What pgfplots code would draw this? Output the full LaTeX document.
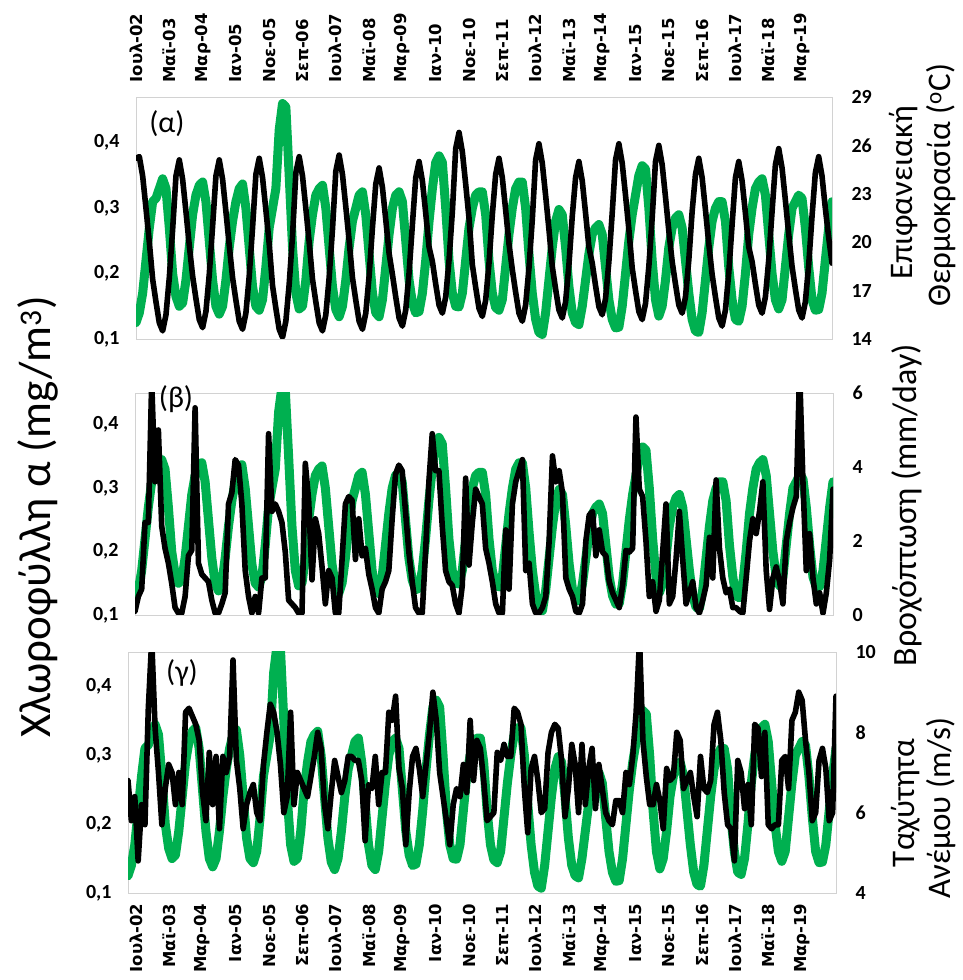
\documentclass[border=0pt]{standalone}
\usepackage{fontspec}
\setmainfont{Carlito}
\newfontfamily\dejavu{DejaVu Sans}
\usepackage{pgfplots}
\usepackage{pgfplotstable}
\pgfplotsset{compat=1.18}
\definecolor{chlgreen}{HTML}{00B050}

\pgfplotstableread{
i chl sst rain wind
0 0.125 25.2 0.1 6.8
1 0.14 25.3 0.5 5.8
2 0.17 24.1 0.7 6.4
3 0.22 22.1 2.5 4.8
4 0.27 20.0 2.5 6.2
5 0.31 17.7 6.3 5.7
6 0.315 16.3 3.6 8.6
7 0.33 15.0 5.0 10.3
8 0.345 14.5 2.4 8.1
9 0.33 15.5 1.8 7.0
10 0.27 17.8 1.4 5.7
11 0.20 20.8 0.85 6.6
12 0.165 24.1 0.2 7.2
13 0.15 25.1 0.05 7.0
14 0.155 23.9 0.05 6.2
15 0.19 21.9 0.5 7.0
16 0.24 19.8 1.6 6.2
17 0.29 17.9 1.75 8.5
18 0.32 16.5 5.6 8.6
19 0.335 15.2 1.4 8.4
20 0.34 14.7 1.1 8.2
21 0.31 15.7 1.0 7.8
22 0.25 18.0 0.9 6.5
23 0.19 21.0 0.4 5.8
24 0.15 24.1 0.05 7.5
25 0.138 25.1 0.05 6.2
26 0.15 23.9 0.3 7.4
27 0.19 21.9 0.6 5.6
28 0.24 19.8 3.0 7.4
29 0.28 17.8 3.3 7.0
30 0.31 16.4 4.2 7.4
31 0.33 15.1 4.05 9.8
32 0.337 14.6 3.0 7.3
33 0.30 15.6 1.2 6.6
34 0.24 17.9 0.5 5.6
35 0.18 20.9 0.05 6.2
36 0.15 24.2 0.5 6.5
37 0.144 25.2 0.05 6.7
38 0.16 24.0 1.0 6.0
39 0.21 22.0 1.0 5.8
40 0.27 19.9 4.9 7.2
41 0.30 17.3 2.8 8.0
42 0.33 15.9 3.0 8.7
43 0.42 14.6 2.8 8.5
44 0.46 14.1 2.5 8.0
45 0.455 15.1 1.7 7.2
46 0.35 17.4 0.4 6.0
47 0.24 20.4 0.3 6.4
48 0.17 24.3 0.2 8.5
49 0.146 25.3 0.05 6.2
50 0.15 24.1 0.05 7.0
51 0.19 22.1 4.1 6.8
52 0.25 20.0 3.1 6.6
53 0.29 17.7 0.95 6.4
54 0.32 16.3 2.6 6.9
55 0.33 15.0 2.2 7.4
56 0.335 14.5 1.3 8.0
57 0.30 15.5 0.3 7.6
58 0.24 17.8 1.2 6.2
59 0.18 20.8 1.0 5.6
60 0.145 24.4 0.05 6.5
61 0.134 25.4 0.05 7.3
62 0.15 24.2 1.5 6.9
63 0.19 22.2 3.0 6.5
64 0.24 20.1 3.2 6.8
65 0.28 17.8 3.1 7.4
66 0.30 16.4 1.5 7.4
67 0.32 15.1 2.6 7.3
68 0.325 14.6 1.6 7.3
69 0.29 15.6 1.8 6.8
70 0.23 17.9 1.1 5.3
71 0.17 20.9 0.7 6.7
72 0.14 23.6 0.2 6.6
73 0.134 24.6 0.05 7.4
74 0.16 23.4 0.7 6.2
75 0.21 21.4 0.9 7.0
76 0.26 19.3 1.2 7.0
77 0.30 18.0 2.6 8.5
78 0.32 16.6 3.8 8.3
79 0.325 15.3 4.05 8.9
80 0.31 14.8 3.9 7.1
81 0.25 15.8 2.8 6.6
82 0.19 18.1 1.7 5.2
83 0.155 21.1 0.9 6.5
84 0.14 24.0 0.2 7.4
85 0.142 25.0 0.05 7.6
86 0.17 23.8 0.05 7.1
87 0.22 21.8 1.7 6.4
88 0.28 19.7 3.6 7.2
89 0.33 18.8 4.9 8.0
90 0.37 17.4 3.9 9.0
91 0.38 16.1 3.9 8.3
92 0.37 15.6 2.4 7.0
93 0.30 16.6 1.2 6.4
94 0.22 18.9 0.9 5.8
95 0.17 21.9 0.8 5.2
96 0.15 25.8 0.3 6.2
97 0.149 26.8 0.05 6.6
98 0.17 25.6 0.8 6.4
99 0.22 23.6 3.7 7.2
100 0.27 21.5 1.35 6.5
101 0.30 18.6 2.5 8.3
102 0.32 17.2 3.4 6.8
103 0.325 15.9 3.2 7.8
104 0.325 15.4 3.0 7.6
105 0.29 16.4 1.8 6.8
106 0.22 18.7 1.4 5.8
107 0.17 21.7 0.9 5.9
108 0.148 24.2 0.3 6.0
109 0.144 25.2 0.05 7.5
110 0.16 24.0 0.05 7.3
111 0.21 22.0 2.3 7.7
112 0.26 19.9 0.7 7.4
113 0.30 18.3 3.0 7.4
114 0.33 16.9 3.6 8.6
115 0.34 15.6 3.9 8.5
116 0.34 15.1 4.2 8.2
117 0.30 16.1 1.2 6.6
118 0.23 18.4 1.4 5.5
119 0.17 21.4 0.3 7.1
120 0.13 25.1 0.05 7.4
121 0.11 26.1 0.05 6.8
122 0.107 24.9 0.2 6.0
123 0.14 22.9 0.5 6.1
124 0.19 20.8 2.0 7.5
125 0.24 18.5 4.3 8.0
126 0.28 17.1 3.6 8.2
127 0.298 15.8 3.9 8.1
128 0.29 15.3 3.3 7.3
129 0.24 16.3 1.0 5.9
130 0.18 18.6 0.7 6.6
131 0.14 21.6 0.5 7.7
132 0.125 24.0 0.1 7.2
133 0.122 25.0 0.05 6.0
134 0.15 23.8 0.3 7.7
135 0.19 21.8 2.0 6.2
136 0.23 19.7 2.7 7.1
137 0.26 18.7 2.8 7.6
138 0.27 17.3 1.6 6.1
139 0.275 16.0 2.3 7.2
140 0.26 15.5 1.7 6.6
141 0.21 16.5 1.6 6.0
142 0.16 18.8 0.9 5.8
143 0.13 21.8 0.6 5.7
144 0.117 25.1 0.4 6.3
145 0.118 26.1 0.2 6.3
146 0.15 24.9 0.8 6.0
147 0.20 22.9 1.75 7.0
148 0.25 20.8 1.7 6.7
149 0.29 18.4 1.8 7.4
150 0.32 17.0 5.35 8.5
151 0.35 15.7 3.4 10.3
152 0.365 15.2 3.2 7.8
153 0.36 16.2 2.0 6.9
154 0.30 18.5 0.5 6.2
155 0.22 21.5 0.9 6.2
156 0.16 25.0 0.1 6.7
157 0.135 26.0 0.4 6.3
158 0.15 24.8 1.7 5.6
159 0.19 22.8 3.0 7.1
160 0.24 20.7 0.3 6.8
161 0.27 18.8 0.5 6.9
162 0.285 17.4 1.5 8.0
163 0.29 16.1 2.8 7.8
164 0.27 15.6 1.5 6.6
165 0.22 16.6 0.3 6.8
166 0.17 18.9 0.6 7.0
167 0.13 21.9 0.9 6.4
168 0.112 24.2 0.2 5.9
169 0.11 25.2 0.05 7.4
170 0.14 24.0 0.4 6.6
171 0.19 22.0 0.8 6.5
172 0.24 19.9 2.1 6.8
173 0.28 18.0 1.0 8.2
174 0.30 16.6 3.65 8.5
175 0.31 15.3 1.8 7.8
176 0.31 14.8 1.0 6.5
177 0.28 15.8 0.6 5.7
178 0.21 18.1 0.7 5.6
179 0.16 21.1 0.2 4.8
180 0.13 24.0 0.2 7.3
181 0.127 25.0 0.1 7.0
182 0.15 23.8 0.05 6.1
183 0.20 21.8 1.0 6.7
184 0.26 19.7 2.0 5.7
185 0.30 18.8 2.6 8.2
186 0.33 17.4 2.2 8.1
187 0.34 16.1 2.8 6.9
188 0.345 15.6 3.6 8.0
189 0.32 16.6 1.2 5.7
190 0.26 18.9 0.15 5.6
191 0.20 21.9 1.0 5.7
192 0.16 24.8 1.3 5.7
193 0.146 25.8 0.9 7.3
194 0.16 24.6 0.3 7.4
195 0.21 22.6 2.0 6.6
196 0.26 20.5 2.5 8.3
197 0.30 18.5 2.9 8.5
198 0.31 17.1 3.2 9.0
199 0.32 15.8 6.6 8.8
200 0.315 15.3 3.6 7.8
201 0.27 16.3 1.2 7.0
202 0.21 18.6 2.2 5.8
203 0.16 21.6 1.0 6.0
204 0.144 24.3 0.3 7.3
205 0.145 25.3 0.6 7.6
206 0.17 24.1 0.05 7.1
207 0.22 22.1 0.6 5.8
208 0.27 20.3 1.5 6.0
209 0.31 18.7 3.4 8.9
}\datatable

\pgfplotsset{
  panel/.style={scale only axis, xmin=0, xmax=209, anchor=south west,
    axis line style={draw=gray!35, line width=0.9pt},
    major tick length=0pt, minor tick num=0,
    yticklabel style={font=\fontsize{20}{20}\selectfont\bfseries},
    yticklabel shift=13pt},
  rpanel/.style={scale only axis, xmin=0, xmax=209, anchor=south west,
    axis x line=none, axis y line*=right,
    axis line style={draw=none},
    major tick length=0pt, minor tick num=0,
    yticklabel style={font=\fontsize{20}{20}\selectfont\bfseries, anchor=west},
    yticklabel shift=16pt},
  monthlabels/.style={
    xticklabels={Ιουλ-02,Μαϊ-03,Μαρ-04,Ιαν-05,Νοε-05,Σεπ-06,Ιουλ-07,Μαϊ-08,Μαρ-09,Ιαν-10,Νοε-10,Σεπ-11,Ιουλ-12,Μαϊ-13,Μαρ-14,Ιαν-15,Νοε-15,Σεπ-16,Ιουλ-17,Μαϊ-18,Μαρ-19}},
  greenline/.style={chlgreen, line width=9pt, line join=round, line cap=round},
  blackline/.style={black, line width=5.6pt, line join=round, line cap=round},
}

\begin{document}
\begin{tikzpicture}
\path[use as bounding box] (0,0) rectangle (963pt,980pt);

% ---------- panel (alpha) ----------
\begin{axis}[panel, at={(136pt,641pt)}, width=696pt, height=242pt,
  ymin=0.1, ymax=0.47, ytick={0.1,0.2,0.3,0.4}, yticklabels={{0,1},{0,2},{0,3},{0,4}},
  xtick={0,10,...,200}, monthlabels, xticklabel pos=upper,
  xticklabel style={rotate=90, anchor=west, font=\dejavu\bfseries\fontsize{16.5}{17}\selectfont},
  xticklabel shift=11pt]
\addplot[greenline] table[x=i,y=chl]{\datatable};
\end{axis}
\begin{axis}[rpanel, at={(136pt,641pt)}, width=696pt, height=242pt,
  ymin=14, ymax=29, ytick={14,17,20,23,26,29}, yticklabels={14,17,20,23,26,29}]
\addplot[blackline] table[x=i,y=sst]{\datatable};
\end{axis}

% ---------- panel (beta) ----------
\begin{axis}[panel, at={(135pt,365pt)}, width=698pt, height=222pt,
  ymin=0.1, ymax=0.45, ytick={0.1,0.2,0.3,0.4}, yticklabels={{0,1},{0,2},{0,3},{0,4}},
  xtick=\empty]
\addplot[greenline] table[x=i,y=chl]{\datatable};
\end{axis}
\begin{axis}[rpanel, at={(135pt,365pt)}, width=698pt, height=222pt,
  ymin=0, ymax=6, ytick={0,2,4,6}, yticklabels={0,2,4,6}]
\addplot[blackline] table[x=i,y=rain]{\datatable};
\end{axis}

% ---------- panel (gamma) ----------
\begin{axis}[panel, at={(128pt,87pt)}, width=708pt, height=241pt,
  ymin=0.1, ymax=0.45, ytick={0.1,0.2,0.3,0.4}, yticklabels={{0,1},{0,2},{0,3},{0,4}},
  xtick={2.4,12.2,22.0,31.8,41.7,51.5,61.3,71.2,81.0,90.8,100.7,110.5,120.3,130.2,140.0,149.8,159.6,169.5,179.3,189.1,199.0},
  monthlabels, xticklabel pos=lower,
  xticklabel style={rotate=90, anchor=east, font=\dejavu\bfseries\fontsize{16.5}{17}\selectfont},
  xticklabel shift=7pt]
\addplot[greenline] table[x=i,y=chl]{\datatable};
\end{axis}
\begin{axis}[rpanel, at={(128pt,87pt)}, width=708pt, height=241pt,
  ymin=4, ymax=10, ytick={4,6,8,10}, yticklabels={4,6,8,10}]
\addplot[blackline] table[x=i,y=wind]{\datatable};
\end{axis}

% ---------- panel letters ----------
\node[font=\fontsize{30}{30}\selectfont] at (167pt,856pt) {(α)};
\node[font=\fontsize{30}{30}\selectfont] at (176pt,581pt) {(β)};
\node[font=\fontsize{30}{30}\selectfont] at (182pt,307pt) {(γ)};

% ---------- axis titles ----------
\node[rotate=90, font=\fontsize{45}{45}\selectfont] at (38pt,463pt) {Χλωροφύλλη α (mg/m\textsuperscript{3})};
\node[rotate=90, font=\fontsize{33}{33}\selectfont] at (904pt,787pt) {Επιφανειακή};
\node[rotate=90, font=\fontsize{33}{33}\selectfont] at (941pt,795pt) {Θερμοκρασία (\textsuperscript{o}C)};
\node[rotate=90, font=\fontsize{34}{34}\selectfont] at (907pt,475pt) {Βροχόπτωση (mm/day)};
\node[rotate=90, font=\fontsize{33}{33}\selectfont] at (906pt,177pt) {Ταχύτητα};
\node[rotate=90, font=\fontsize{33}{33}\selectfont] at (941pt,172pt) {Ανέμου (m/s)};
\end{tikzpicture}
\end{document}
